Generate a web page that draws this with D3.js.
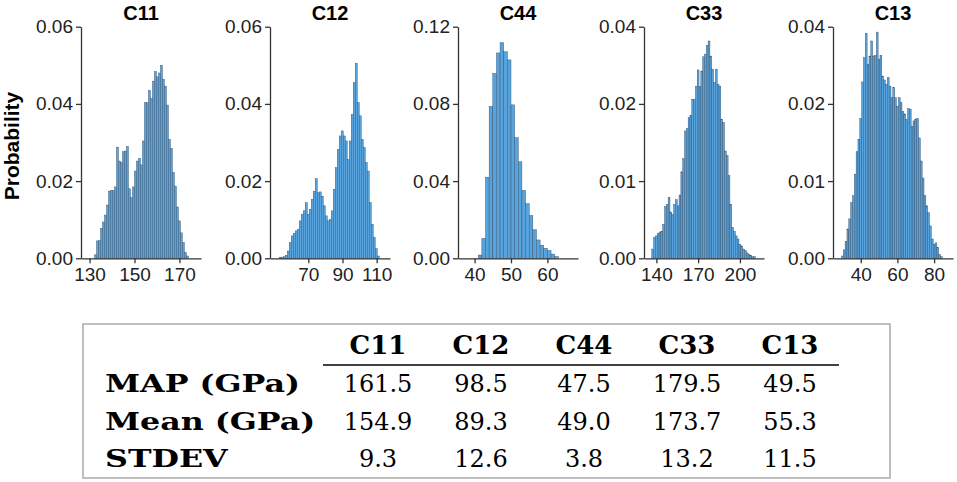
<!DOCTYPE html>
<html>
<head>
<meta charset="utf-8">
<script src="https://cdn.jsdelivr.net/npm/d3@7"></script>
<style>
  body { margin: 0; background: #fff; }
  svg { display: block; }
</style>
</head>
<body>
<div id="chart"></div>
<script>
// Histogram data (probability per bin)
const panels = ["C11", "C12", "C44", "C33", "C13"];
const binStart = [132.2, 53.0, 41.0, 136.7, 29.5];
const binWidth = [0.889, 1.17, 1.0, 1.305, 1.0];

const c11 = [0.0009, 0.0045, 0.0046, 0.0078, 0.0094, 0.0112, 0.0138, 0.0174, 0.0176, 0.0176,
    0.0185, 0.0288, 0.0252, 0.0248, 0.0276, 0.0278, 0.0290, 0.0180, 0.0157, 0.0185,
    0.0226, 0.0252, 0.0259, 0.0242, 0.0304, 0.0403, 0.0403, 0.0435, 0.0414, 0.0459,
    0.0484, 0.0470, 0.0480, 0.0500, 0.0464, 0.0446, 0.0397, 0.0308, 0.0285, 0.0222,
    0.0187, 0.0133, 0.0097, 0.0066, 0.0041, 0.0015, 0.0006];
const c12 = [0.0003, 0.0003, 0.0004, 0.0008, 0.0019, 0.0041, 0.0058, 0.0065, 0.0071, 0.0075,
    0.0097, 0.0114, 0.0123, 0.0144, 0.0114, 0.0127, 0.0153, 0.0174, 0.0206, 0.0170,
    0.0172, 0.0161, 0.0136, 0.0110, 0.0097, 0.0101, 0.0123, 0.0179, 0.0235, 0.0282,
    0.0317, 0.0330, 0.0317, 0.0304, 0.0256, 0.0304, 0.0373, 0.0455, 0.0505, 0.0403,
    0.0369, 0.0308, 0.0287, 0.0248, 0.0226, 0.0144, 0.0088, 0.0054, 0.0025, 0.0006];
const c44 = [0.0017, 0.0103, 0.0420, 0.0787, 0.0958, 0.1064, 0.1117, 0.1070, 0.1028, 0.0795,
    0.0625, 0.0500, 0.0352, 0.0283, 0.0222, 0.0148, 0.0095, 0.0068, 0.0052, 0.0040,
    0.0022, 0.0009];
const c33 = [0.0012, 0.0027, 0.0029, 0.0032, 0.0034, 0.0035, 0.0044, 0.0067, 0.0070, 0.0079,
    0.0060, 0.0057, 0.0070, 0.0076, 0.0068, 0.0082, 0.0112, 0.0129, 0.0165, 0.0168,
    0.0182, 0.0185, 0.0212, 0.0212, 0.0246, 0.0288, 0.0245, 0.0285, 0.0322, 0.0329,
    0.0352, 0.0363, 0.0324, 0.0290, 0.0255, 0.0290, 0.0251, 0.0246, 0.0180, 0.0176,
    0.0139, 0.0133, 0.0107, 0.0070, 0.0040, 0.0035, 0.0029, 0.0025, 0.0018, 0.0016,
    0.0012, 0.0010, 0.0007, 0.0005, 0.0004, 0.0002, 0.0002];
const c13 = [0.0003, 0.0011, 0.0022, 0.0038, 0.0051, 0.0072, 0.0081, 0.0109, 0.0138, 0.0154,
    0.0181, 0.0257, 0.0320, 0.0383, 0.0303, 0.0324, 0.0363, 0.0324, 0.0326, 0.0386,
    0.0316, 0.0326, 0.0272, 0.0262, 0.0251, 0.0268, 0.0246, 0.0216, 0.0242, 0.0216,
    0.0197, 0.0216, 0.0203, 0.0190, 0.0187, 0.0180, 0.0194, 0.0193, 0.0171, 0.0178,
    0.0180, 0.0181, 0.0156, 0.0126, 0.0104, 0.0081, 0.0068, 0.0059, 0.0042, 0.0025,
    0.0018, 0.0020, 0.0014, 0.0005, 0.0002];
const series = [c11, c12, c44, c33, c13];

const xDomains = [[126.2, 179.6], [47.6, 117.8], [35.45, 68.4], [131.1, 217.3], [24.9, 90.3]];
const xTicks = [[130, 150, 170], [70, 90, 110], [40, 50, 60], [140, 170, 200], [40, 60, 80]];
// the last two panels are labelled 0.00 / 0.01 / 0.02 / 0.04 at equal spacing
const yTicks = [[0, 0.02, 0.04, 0.06], [0, 0.02, 0.04, 0.06], [0, 0.04, 0.08, 0.12],
    [0, 0.01, 0.02, 0.04], [0, 0.01, 0.02, 0.04]];

// Summary table
const tableCols = ["C11", "C12", "C44", "C33", "C13"];
const rowLabels = ["MAP (GPa)", "Mean (GPa)", "STDEV"];
const mapVals = [161.5, 98.5, 47.5, 179.5, 49.5];
const meanVals = [154.9, 89.3, 49.0, 173.7, 55.3];
const stdevVals = [9.3, 12.6, 3.8, 13.2, 11.5];

const W = 957, H = 482;
const panelLeft = [81, 270, 458, 644, 833];
const panelW = 120;
const yBottom = 258.3, yTop = 26.7;
const sansFont = "'Liberation Sans', Arial, sans-serif";
const serifFont = "'DejaVu Serif', serif";

const svg = d3.select("#chart").append("svg")
    .attr("width", W)
    .attr("height", H);

panels.forEach(function(name, p) {
    let x = d3.scaleLinear()
        .domain(xDomains[p])
        .range([panelLeft[p], panelLeft[p] + panelW]);

    let ticks = yTicks[p];
    let y = d3.scaleLinear()
        .domain(ticks)
        .range(ticks.map((t, i) => yBottom - i * (yBottom - yTop) / (ticks.length - 1)));

    let g = svg.append("g").attr("class", "panel");

    g.selectAll("rect.bar")
        .data(series[p])
        .enter().append("rect")
        .attr("class", "bar")
        .attr("x", (d, i) => x(binStart[p] + i * binWidth[p]))
        .attr("width", (d, i) => x(binStart[p] + (i + 1) * binWidth[p]) - x(binStart[p] + i * binWidth[p]))
        .attr("y", d => y(d))
        .attr("height", d => y(0) - y(d))
        .attr("fill", "#58a3dc")
        .attr("stroke", "#2c4a68")
        .attr("stroke-width", 0.4);

    let xAxis = g.append("g")
        .attr("transform", "translate(0," + yBottom + ")")
        .call(d3.axisBottom(x).tickValues(xTicks[p]).tickSize(5).tickPadding(4).tickSizeOuter(0));

    let yAxis = g.append("g")
        .attr("transform", "translate(" + panelLeft[p] + ",0)")
        .call(d3.axisLeft(y).tickValues(ticks).tickFormat(d3.format(".2f"))
            .tickSize(5).tickPadding(3).tickSizeOuter(0));

    [xAxis, yAxis].forEach(function(a) {
        a.select(".domain").attr("stroke", "#333").attr("stroke-width", 1.3);
        a.selectAll(".tick line").attr("stroke", "#333").attr("stroke-width", 1.3);
        a.selectAll(".tick text")
            .attr("fill", "#222")
            .style("font-family", sansFont)
            .style("font-size", "19px");
    });

    g.append("text")
        .attr("x", panelLeft[p] + panelW / 2)
        .attr("y", 20)
        .attr("text-anchor", "middle")
        .style("font-family", sansFont)
        .style("font-weight", "bold")
        .style("font-size", "20px")
        .text(name);
});

svg.append("text")
    .attr("transform", "translate(19,146) rotate(-90)")
    .attr("text-anchor", "middle")
    .style("font-family", sansFont)
    .style("font-weight", "bold")
    .style("font-size", "21px")
    .text("Probability");

// table
svg.append("rect")
    .attr("x", 83).attr("y", 324)
    .attr("width", 807).attr("height", 154)
    .attr("fill", "none")
    .attr("stroke", "#aaa")
    .attr("stroke-width", 1.5);

let colX = d3.scalePoint().domain(tableCols).range([378, 790]);
let rowY = d3.scalePoint().domain(rowLabels).range([392, 467]);

svg.selectAll("text.colhead")
    .data(tableCols)
    .enter().append("text")
    .attr("class", "colhead")
    .attr("x", d => colX(d))
    .attr("y", 354)
    .attr("text-anchor", "middle")
    .style("font-family", serifFont)
    .style("font-weight", "bold")
    .style("font-size", "26px")
    .text(d => d);

svg.append("line")
    .attr("x1", 323).attr("x2", 839)
    .attr("y1", 365).attr("y2", 365)
    .attr("stroke", "#000")
    .attr("stroke-width", 1.5);

let rowValues = [mapVals, meanVals, stdevVals];

rowLabels.forEach(function(label, r) {
    let t = svg.append("text")
        .attr("x", 105)
        .attr("y", rowY(label))
        .style("font-family", serifFont)
        .style("font-weight", "bold")
        .style("font-size", "24px")
        .text(label);
    // the reference uses a much wider bold face, so stretch to match
    let len = t.node().getComputedTextLength();
    t.attr("textLength", len * 1.32).attr("lengthAdjust", "spacingAndGlyphs");

    svg.selectAll("text.val" + r)
        .data(rowValues[r])
        .enter().append("text")
        .attr("class", "val" + r)
        .attr("x", (d, i) => colX(tableCols[i]))
        .attr("y", rowY(label))
        .attr("text-anchor", "middle")
        .style("font-family", serifFont)
        .style("font-size", "24px")
        .text(d => d.toFixed(1));
});
</script>
</body>
</html>
